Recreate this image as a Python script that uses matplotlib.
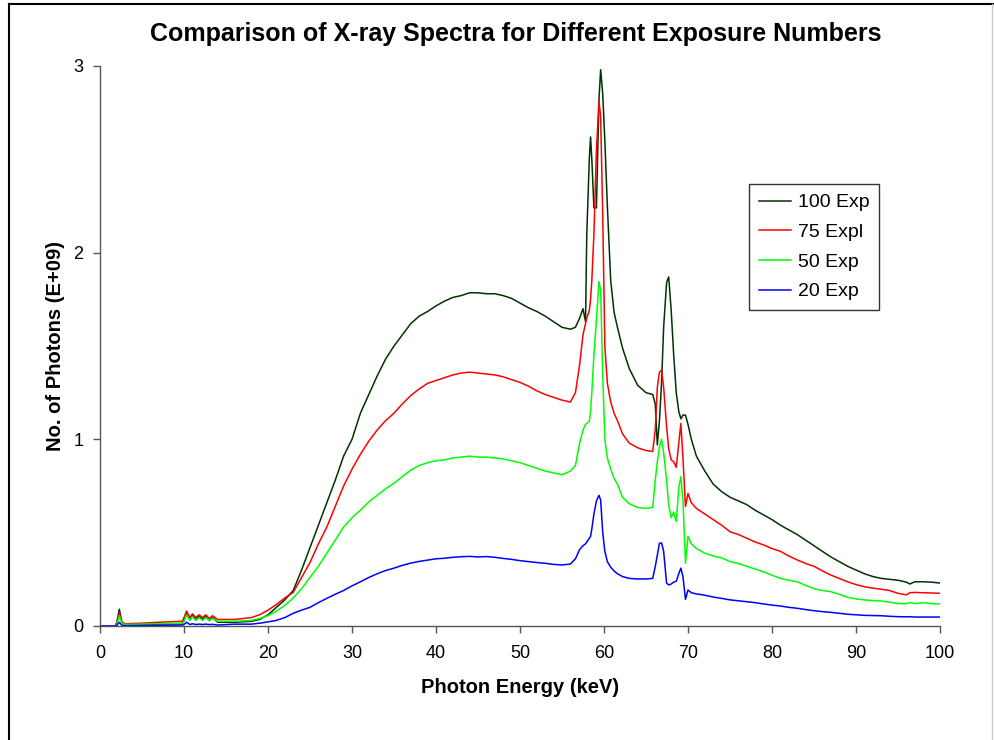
import matplotlib
matplotlib.use("Agg")
import matplotlib.pyplot as plt
from matplotlib.lines import Line2D

plt.rcParams['font.family'] = ['Liberation Sans', 'DejaVu Sans']

# ---- data (photon energy in keV, photons in units of 1e9) ----
energy = [0, 1.8, 2.0, 2.3, 2.6, 3.0, 5.0, 7.0, 9.8, 10.0, 10.3, 10.7, 11.0, 11.4, 11.8,
          12.2, 12.6, 13.0, 13.4, 14.0, 16.0, 18.0, 19.0, 20.0, 21.0, 22.0, 23.0, 24.0,
          25.0, 26.0, 27.0, 28.0, 29.0, 30.0, 31.0, 32.0, 33.0, 34.0, 35.0, 36.0, 37.0,
          38.0, 39.0, 40.0, 41.0, 42.0, 43.0, 44.0, 45.0, 46.0, 47.0, 48.0, 49.0, 50.0,
          51.0, 52.0, 53.0, 54.0, 55.0, 56.0, 56.6, 57.1, 57.5, 57.8, 57.95, 58.25, 58.4,
          58.55, 58.8, 59.1, 59.4, 59.6, 59.85, 60.1, 60.4, 60.8, 61.2, 61.6, 62.2, 63.0,
          64.0, 65.0, 65.8, 66.1, 66.35, 66.6, 66.85, 67.1, 67.45, 67.7, 68.0, 68.3, 68.6,
          68.9, 69.15, 69.4, 69.7, 70.0, 70.4, 71.0, 72.0, 73.0, 74.0, 75.0, 76.0, 77.0,
          78.0, 79.0, 80.0, 81.0, 82.0, 83.0, 84.0, 85.0, 86.0, 87.0, 88.0, 89.0, 90.0,
          91.0, 92.0, 93.0, 94.0, 95.0, 96.0, 96.4, 97.0, 98.0, 99.0, 100.0]

exp100 = [0, 0, 0.02, 0.09, 0.02, 0.008, 0.008, 0.01, 0.012, 0.03, 0.075, 0.035, 0.06, 0.035, 0.055,
          0.035, 0.055, 0.03, 0.045, 0.02, 0.02, 0.025, 0.035, 0.06, 0.10, 0.14, 0.19, 0.30,
          0.42, 0.54, 0.66, 0.78, 0.91, 1.00, 1.14, 1.24, 1.34, 1.43, 1.50, 1.56, 1.62,
          1.66, 1.685, 1.715, 1.74, 1.76, 1.77, 1.785, 1.785, 1.78, 1.78, 1.77, 1.755, 1.73,
          1.705, 1.685, 1.66, 1.63, 1.60, 1.59, 1.60, 1.65, 1.70, 1.63, 2.10, 2.50, 2.62,
          2.50, 2.24, 2.24, 2.82, 2.98, 2.85, 2.60, 2.25, 1.85, 1.68, 1.60, 1.49, 1.38,
          1.29, 1.25, 1.24, 1.19, 0.97, 1.10, 1.30, 1.60, 1.84, 1.87, 1.69, 1.45, 1.25,
          1.15, 1.11, 1.13, 1.13, 1.08, 1.00, 0.91, 0.83, 0.76, 0.72, 0.69, 0.67, 0.65,
          0.62, 0.595, 0.57, 0.54, 0.515, 0.49, 0.46, 0.43, 0.40, 0.37, 0.345, 0.32, 0.30,
          0.28, 0.265, 0.255, 0.25, 0.245, 0.235, 0.225, 0.237, 0.237, 0.235, 0.23]

exp75 = [0, 0, 0.015, 0.07, 0.02, 0.012, 0.015, 0.02, 0.025, 0.045, 0.08, 0.045, 0.065, 0.045, 0.06,
         0.045, 0.06, 0.04, 0.055, 0.035, 0.035, 0.045, 0.06, 0.085, 0.115, 0.15, 0.18, 0.26,
         0.34, 0.44, 0.53, 0.64, 0.75, 0.84, 0.92, 0.99, 1.05, 1.10, 1.14, 1.19, 1.235,
         1.27, 1.30, 1.315, 1.33, 1.345, 1.355, 1.36, 1.355, 1.35, 1.345, 1.335, 1.32, 1.305,
         1.285, 1.26, 1.24, 1.225, 1.21, 1.20, 1.25, 1.40, 1.56, 1.62, 1.65, 1.69, 1.75,
         1.85, 2.10, 2.55, 2.81, 2.73, 2.20, 1.50, 1.30, 1.20, 1.14, 1.10, 1.03, 0.98,
         0.955, 0.94, 0.935, 1.05, 1.28, 1.36, 1.37, 1.28, 1.07, 0.95, 0.89, 0.88, 0.85,
         0.98, 1.085, 0.90, 0.64, 0.71, 0.66, 0.63, 0.60, 0.57, 0.54, 0.505, 0.49, 0.47,
         0.45, 0.434, 0.415, 0.40, 0.375, 0.354, 0.335, 0.32, 0.295, 0.273, 0.255, 0.237, 0.222,
         0.21, 0.203, 0.197, 0.19, 0.175, 0.167, 0.178, 0.18, 0.178, 0.177, 0.175]

exp50 = [0, 0, 0.01, 0.055, 0.015, 0.008, 0.01, 0.012, 0.015, 0.025, 0.06, 0.03, 0.05, 0.03, 0.045,
         0.03, 0.045, 0.03, 0.04, 0.025, 0.025, 0.03, 0.04, 0.055, 0.08, 0.11, 0.15, 0.20,
         0.26, 0.32, 0.39, 0.46, 0.53, 0.58, 0.62, 0.665, 0.70, 0.735, 0.765, 0.80, 0.835,
         0.86, 0.875, 0.885, 0.89, 0.90, 0.905, 0.91, 0.905, 0.905, 0.90, 0.895, 0.885, 0.875,
         0.86, 0.845, 0.83, 0.82, 0.81, 0.83, 0.86, 0.98, 1.05, 1.08, 1.085, 1.095, 1.15,
         1.25, 1.45, 1.64, 1.845, 1.80, 1.35, 1.0, 0.90, 0.84, 0.79, 0.76, 0.69, 0.655,
         0.635, 0.63, 0.635, 0.78, 0.88, 0.96, 1.0, 0.93, 0.78, 0.65, 0.58, 0.61, 0.56,
         0.74, 0.80, 0.68, 0.336, 0.48, 0.44, 0.415, 0.39, 0.375, 0.365, 0.345, 0.335, 0.32,
         0.305, 0.29, 0.272, 0.255, 0.245, 0.237, 0.218, 0.20, 0.19, 0.184, 0.17, 0.154, 0.145,
         0.14, 0.136, 0.134, 0.128, 0.12, 0.12, 0.125, 0.12, 0.125, 0.12, 0.118]

exp20 = [0, 0, 0.003, 0.02, 0.004, 0.002, 0.003, 0.004, 0.005, 0.008, 0.02, 0.008, 0.012, 0.008, 0.01,
         0.008, 0.01, 0.008, 0.009, 0.005, 0.01, 0.01, 0.015, 0.022, 0.03, 0.045, 0.068, 0.085,
         0.10, 0.125, 0.148, 0.17, 0.19, 0.215, 0.237, 0.26, 0.28, 0.297, 0.31, 0.325, 0.337,
         0.346, 0.353, 0.36, 0.363, 0.368, 0.371, 0.373, 0.37, 0.372, 0.368, 0.362, 0.357, 0.35,
         0.345, 0.34, 0.336, 0.33, 0.327, 0.332, 0.36, 0.41, 0.43, 0.44, 0.45, 0.47, 0.48,
         0.52, 0.60, 0.67, 0.70, 0.675, 0.50, 0.40, 0.345, 0.315, 0.295, 0.28, 0.265, 0.255,
         0.252, 0.252, 0.255, 0.318, 0.38, 0.443, 0.445, 0.40, 0.23, 0.22, 0.225, 0.235, 0.24,
         0.28, 0.31, 0.265, 0.143, 0.193, 0.178, 0.172, 0.165, 0.155, 0.148, 0.14, 0.135, 0.13,
         0.125, 0.118, 0.112, 0.107, 0.10, 0.095, 0.088, 0.082, 0.077, 0.073, 0.068, 0.063, 0.06,
         0.057, 0.056, 0.055, 0.052, 0.05, 0.049, 0.05, 0.048, 0.048, 0.048, 0.048]

series_labels = ["100 Exp", "75 Expl", "50 Exp", "20 Exp"]
series_colors = ["#003300", "#FF0000", "#00FF00", "#0000FF"]
x_ticks = [0, 10, 20, 30, 40, 50, 60, 70, 80, 90, 100]
y_ticks = [0, 1, 2, 3]

fig = plt.figure(figsize=(9.94, 7.40), dpi=100)
ax = fig.add_axes([100 / 994, 1 - 626 / 740, 840 / 994, 560 / 740])

for vals, lab, col in zip([exp100, exp75, exp50, exp20], series_labels, series_colors):
    ax.plot(energy, vals, color=col, lw=1.1, label=lab)

ax.set_xlim(0, 100)
ax.set_ylim(0, 3)
ax.set_xticks(x_ticks)
ax.set_yticks(y_ticks)
for side in ("top", "right"):
    ax.spines[side].set_visible(False)
for side in ("left", "bottom"):
    ax.spines[side].set_color("#555555")
    ax.spines[side].set_linewidth(1.0)
ax.tick_params(direction="out", length=5, width=1, color="#555555", labelsize=13)
ax.tick_params(axis="x", pad=9)
ax.tick_params(axis="y", pad=7)

ax.set_xlabel("Photon Energy (keV)", fontsize=14.5, fontweight="bold")
ax.set_ylabel("No. of Photons (E+09)", fontsize=14.5, fontweight="bold")
ax.xaxis.set_label_coords(0.5, -0.093)
ax.yaxis.set_label_coords(-0.042, 0.5)

fig.text(516 / 994, 1 - 34 / 740, "Comparison of X-ray Spectra for Different Exposure Numbers",
         ha="center", va="center", fontsize=18, fontweight="bold")

leg = ax.legend(loc="upper left", bbox_to_anchor=(0.773, 0.789), borderaxespad=0,
                fontsize=14, frameon=True, fancybox=False, handlelength=1.65,
                handletextpad=0.35, labelspacing=0.62, borderpad=0.5)
leg.get_frame().set_edgecolor("black")
leg.get_frame().set_linewidth(1.0)

# outer chart-area border
fig.add_artist(Line2D([9 / 994, 9 / 994], [-0.01, 1 - 4 / 740], transform=fig.transFigure,
                      color="black", lw=1.5))
fig.add_artist(Line2D([9 / 994, 993 / 994], [1 - 4 / 740, 1 - 4 / 740], transform=fig.transFigure,
                      color="black", lw=1.5))
fig.add_artist(Line2D([992 / 994, 992 / 994], [-0.01, 1 - 4 / 740], transform=fig.transFigure,
                      color="#cccccc", lw=1.0))

fig.savefig("out.png", dpi=100)
